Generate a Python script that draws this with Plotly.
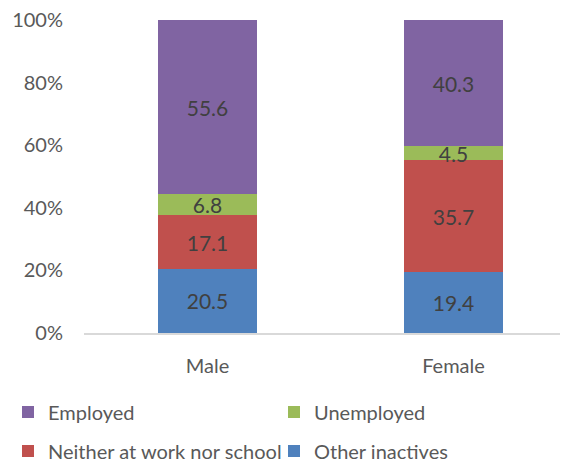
import plotly.graph_objects as go

# data
groups = ["Male", "Female"]
other_inactives = [20.5, 19.4]
neither = [17.1, 35.7]
unemployed = [6.8, 4.5]
employed = [55.6, 40.3]
y_ticks = [0, 20, 40, 60, 80, 100]
y_tick_text = ["0%", "20%", "40%", "60%", "80%", "100%"]

FONT = "Lato, 'Open Sans', sans-serif"
LABEL = "#404040"
TICK = "#595959"

# name, values, colour, legend slot (one legend per entry so the 2x2 grid is exact)
series = [
    ("Other inactives", other_inactives, "#4F81BD", "legend4"),
    ("Neither at work nor school", neither, "#C0504D", "legend3"),
    ("Unemployed", unemployed, "#9BBB59", "legend2"),
    ("Employed", employed, "#8064A2", "legend"),
]

fig = go.Figure()
for name, vals, color, leg in series:
    fig.add_trace(go.Bar(
        name=name, x=groups, y=vals,
        marker=dict(color=color, line=dict(width=0)),
        width=0.40,
        text=[f"{v:.1f}" for v in vals],
        textposition="inside", insidetextanchor="middle",
        textangle=0, constraintext="none", cliponaxis=False,
        textfont=dict(family=FONT, size=21, color=LABEL),
        legend=leg,
    ))

W, H = 568, 463
PAD = 8  # page body margin offsets the figure


def leg_box(x, y):
    return dict(
        x=x / W, y=1 - y / H, xref="container", yref="container",
        xanchor="left", yanchor="middle", orientation="h",
        font=dict(family=FONT, size=20, color=TICK),
        bgcolor="rgba(0,0,0,0)", itemclick=False, itemdoubleclick=False,
    )


fig.update_layout(
    width=W, height=H,
    margin=dict(l=84 - PAD, r=0, t=20 - PAD, b=H - 333 + PAD, autoexpand=False),
    barmode="stack", barnorm="percent",
    paper_bgcolor="white", plot_bgcolor="white",
    font=dict(family=FONT, size=20, color=TICK),
    uniformtext=dict(mode="show", minsize=21),
    showlegend=True,
    legend=leg_box(-13, 412 - PAD),
    legend2=leg_box(266, 412 - PAD),
    legend3=leg_box(-13, 451 - PAD),
    legend4=leg_box(266, 451 - PAD),
    xaxis=dict(
        range=[-0.502, 1.498], showgrid=False, zeroline=False,
        showline=True, linecolor="#D9D9D9", linewidth=1.5,
        ticks="outside", ticklen=14, tickcolor="rgba(0,0,0,0)",
        tickfont=dict(family=FONT, size=20, color=TICK),
        automargin=False,
    ),
    yaxis=dict(
        range=[0, 100], tickmode="array", tickvals=y_ticks, ticktext=y_tick_text,
        showgrid=False, zeroline=False, showline=False,
        ticks="outside", ticklen=16, tickcolor="rgba(0,0,0,0)",
        ticklabeloverflow="allow",
        tickfont=dict(family=FONT, size=20, color=TICK),
        automargin=False,
    ),
)

fig.write_html("out.html")
